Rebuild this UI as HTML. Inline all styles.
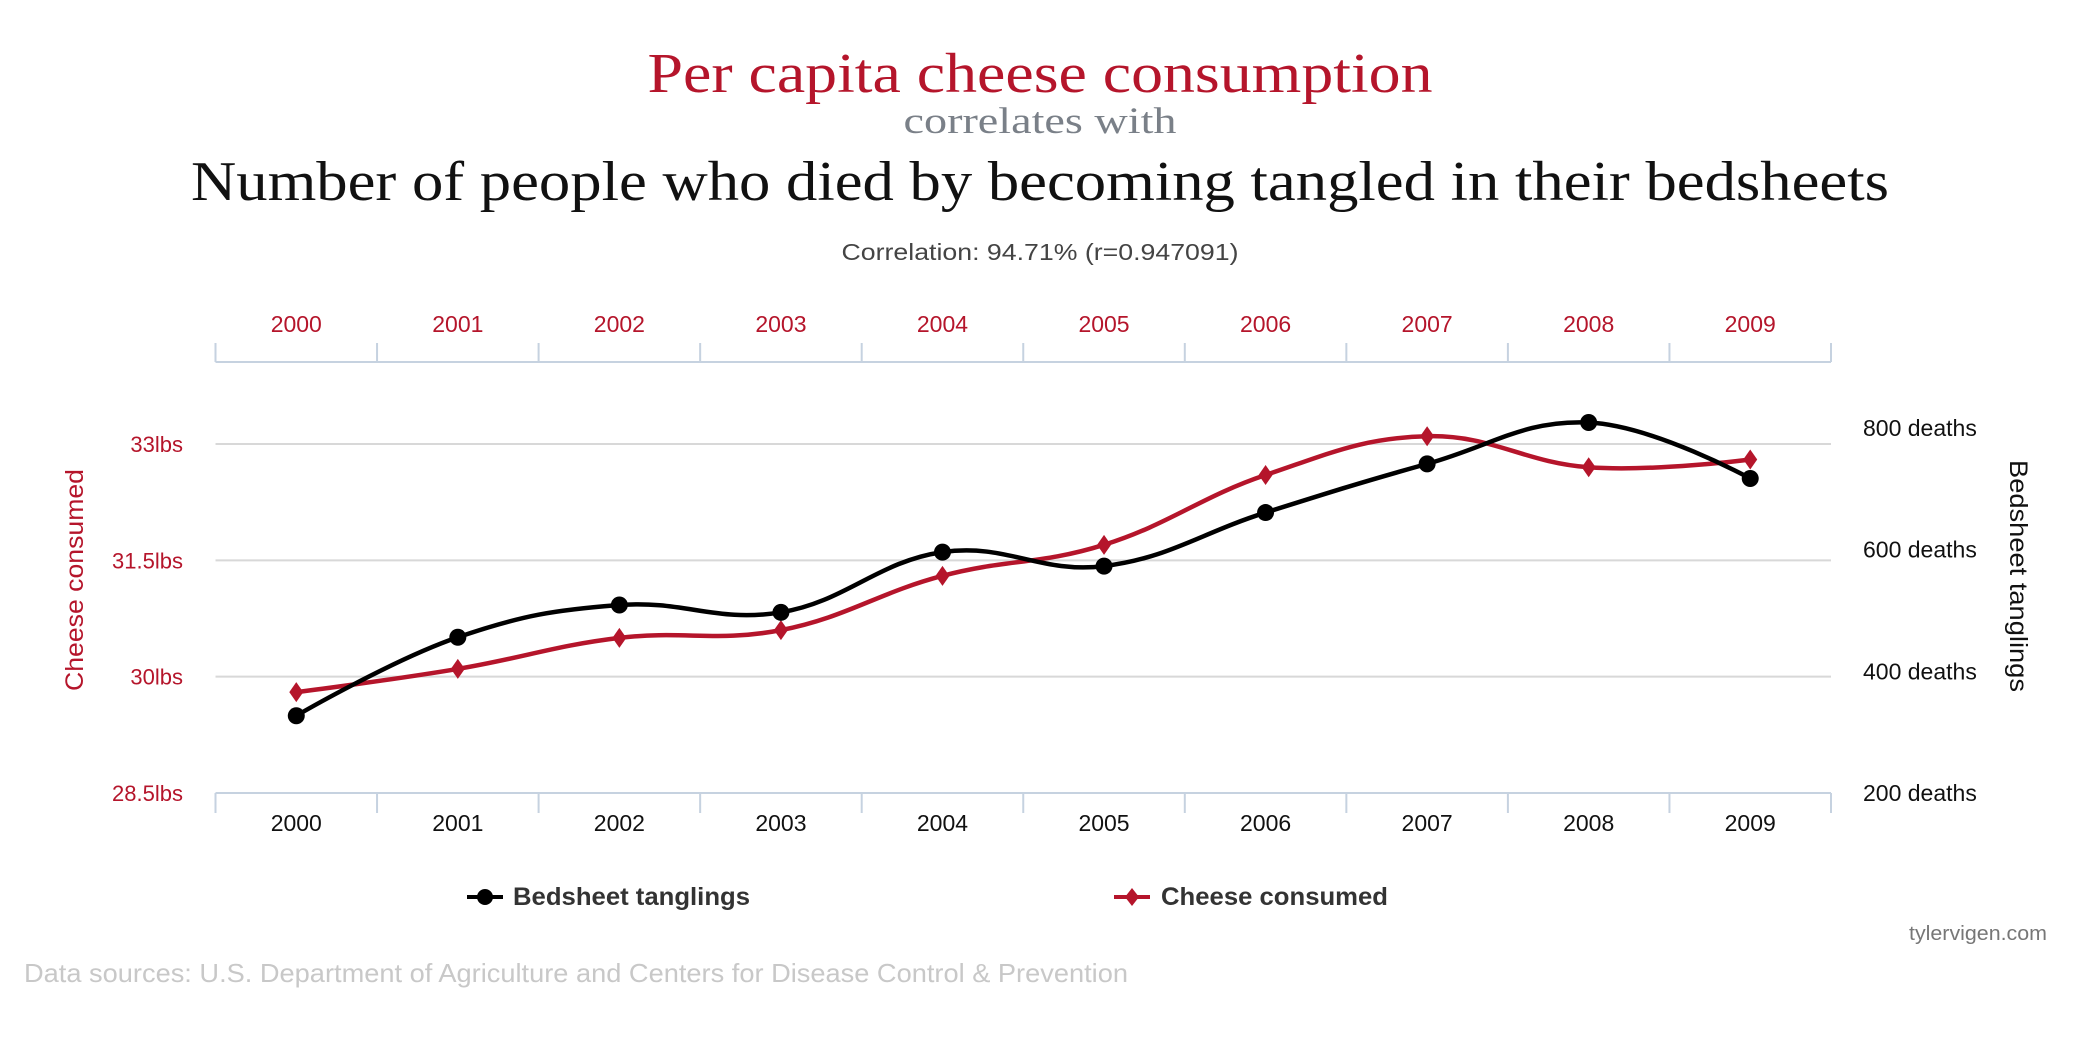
<!DOCTYPE html>
<html><head><meta charset="utf-8"><style>
body{margin:0;background:#fff;width:2080px;height:1034px;overflow:hidden}
svg text{font-family:"Liberation Sans",sans-serif}
</style></head><body>
<svg id="chart" width="2080" height="1034" xmlns="http://www.w3.org/2000/svg">
<text x="1040" y="92" text-anchor="middle" font-size="56" fill="#b5152b" textLength="785" lengthAdjust="spacingAndGlyphs" style="font-family:'Liberation Serif',serif">Per capita cheese consumption</text>
<text x="1040" y="133" text-anchor="middle" font-size="37" fill="#7a8088" textLength="273" lengthAdjust="spacingAndGlyphs" style="font-family:'Liberation Serif',serif">correlates with</text>
<text x="1040" y="200" text-anchor="middle" font-size="56" fill="#111" textLength="1698" lengthAdjust="spacingAndGlyphs" style="font-family:'Liberation Serif',serif">Number of people who died by becoming tangled in their bedsheets</text>
<text x="1040" y="260" text-anchor="middle" font-size="23" fill="#444" textLength="397" lengthAdjust="spacingAndGlyphs">Correlation: 94.71% (r=0.947091)</text>
<g id="grid"></g><g id="axes"></g><g id="series"></g>
<text transform="translate(83,580) rotate(-90)" text-anchor="middle" font-size="25" fill="#b5152b" textLength="222" lengthAdjust="spacingAndGlyphs">Cheese consumed</text>
<text transform="translate(2010,576) rotate(90)" text-anchor="middle" font-size="25" fill="#111" textLength="232" lengthAdjust="spacingAndGlyphs">Bedsheet tanglings</text>
<g>
<line x1="467" y1="897" x2="503" y2="897" stroke="#000" stroke-width="4"/><circle cx="485" cy="897" r="8" fill="#000"/>
<text x="513" y="905" font-size="25" font-weight="bold" fill="#333" textLength="237" lengthAdjust="spacingAndGlyphs">Bedsheet tanglings</text></g>
<g>
<line x1="1114" y1="897" x2="1150" y2="897" stroke="#b5152b" stroke-width="4"/><path d="M1132 888 L1139 897 L1132 906 L1125 897Z" fill="#b5152b"/>
<text x="1161" y="905" font-size="25" font-weight="bold" fill="#333" textLength="227" lengthAdjust="spacingAndGlyphs">Cheese consumed</text></g>
<text x="2047" y="940" text-anchor="end" font-size="20" fill="#777" textLength="138" lengthAdjust="spacingAndGlyphs">tylervigen.com</text>
<text x="24" y="982" font-size="26" fill="#c8c8c8" textLength="1104" lengthAdjust="spacingAndGlyphs">Data sources: U.S. Department of Agriculture and Centers for Disease Control &amp; Prevention</text>
</svg>
<script>
const years=["2000","2001","2002","2003","2004","2005","2006","2007","2008","2009"];
const cheese=[29.8,30.1,30.5,30.6,31.3,31.7,32.6,33.1,32.7,32.8];
const bedsheet=[327,456,509,497,596,573,661,741,809,717];
const leftTicks=[28.5,30,31.5,33];
const rightTicks=[200,400,600,800];
const NS="http://www.w3.org/2000/svg";
const L=215.5,R=1831,TOP=362,BOT=793;
const bw=(R-L)/years.length;
const xS=i=>L+bw*(i+0.5);
const yL=v=>793-(v-28.5)*(793-444)/4.5;
const yR=v=>793-(v-200)*(793-428)/600;
function mk(tag,attrs,parent){const e=document.createElementNS(NS,tag);for(const k in attrs)e.setAttribute(k,attrs[k]);parent.appendChild(e);return e;}
const grid=document.getElementById('grid'),axes=document.getElementById('axes'),ser=document.getElementById('series');
leftTicks.forEach(t=>{
  if(t>28.5){const g=mk('line',{x1:L,x2:R,y1:yL(t),y2:yL(t),stroke:'#d8d8d8','stroke-width':2},grid);
  
  }
  const tx=mk('text',{x:183,y:yL(t)+8,'text-anchor':'end','font-size':22,fill:'#b5152b'},axes);tx.textContent=t+'lbs';
  
  
});
rightTicks.forEach(t=>{
  const tx=mk('text',{x:1863,y:yR(t)+8,'font-size':23,fill:'#111'},axes);tx.textContent=t+' deaths';
  
  
});
[[TOP,TOP-19,'#b5152b',TOP-30],[BOT,BOT+20,'#111',BOT+38]].forEach(([y,ty,col,ly],k)=>{
  const a=mk('line',{x1:L,x2:R,y1:y,y2:y,stroke:'#c6d2e0','stroke-width':2},axes);
  
  
  for(let i=0;i<=years.length;i++)mk('line',{x1:L+bw*i,x2:L+bw*i,y1:y,y2:ty,stroke:'#c6d2e0','stroke-width':2},axes);
  years.forEach((yr,i)=>{const tx=mk('text',{x:xS(i),y:ly,'text-anchor':'middle','font-size':23,fill:col},axes);tx.textContent=yr;
  
  });
});
function spline(pts){
  let d='M'+pts[0][0]+' '+pts[0][1];
  const s=1.5,den=s+1;
  function ctrl(i){
    const p=pts[i],a=pts[i-1],b=pts[i+1];
    if(!a||!b)return [p,p];
    let lx=(s*p[0]+a[0])/den,ly=(s*p[1]+a[1])/den,rx=(s*p[0]+b[0])/den,ry=(s*p[1]+b[1])/den;
    let corr=0;if(rx!==lx){corr=((ry-ly)*(rx-p[0]))/(rx-lx)+p[1]-ry;}
    return [[lx,ly+corr],[rx,ry+corr]];
  }
  for(let i=1;i<pts.length;i++){
    const c1=ctrl(i-1)[1],c2=ctrl(i)[0];
    d+=` C${c1[0]} ${c1[1]} ${c2[0]} ${c2[1]} ${pts[i][0]} ${pts[i][1]}`;
  }
  return d;
}
const cp=cheese.map((v,i)=>[xS(i),yL(v)]);
const bp=bedsheet.map((v,i)=>[xS(i),yR(v)]);
const cl=mk('path',{d:spline(cp),fill:'none',stroke:'#b5152b','stroke-width':4.5},ser);


const bl=mk('path',{d:spline(bp),fill:'none',stroke:'#000','stroke-width':4.5},ser);


cp.forEach(([x,y])=>{const m=mk('path',{d:`M${x} ${y-10}L${x+7} ${y}L${x} ${y+10}L${x-7} ${y}Z`,fill:'#b5152b'},ser);

});
bp.forEach(([x,y])=>{const m=mk('circle',{cx:x,cy:y,r:8.5,fill:'#000'},ser);

});
</script>
</body></html>
